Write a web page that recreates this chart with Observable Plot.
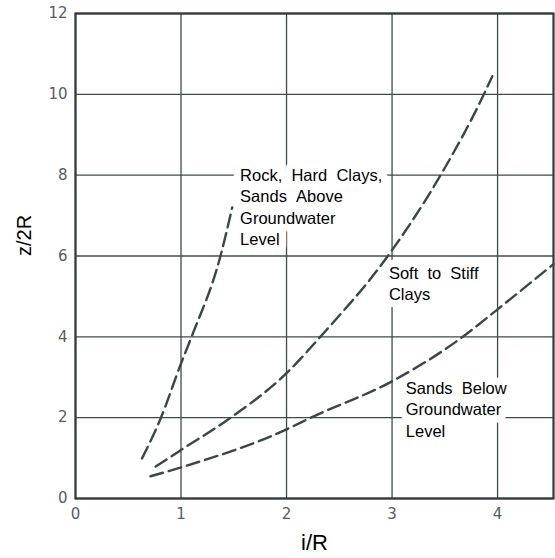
<!DOCTYPE html>
<html><head><meta charset="utf-8">
<script src="https://cdn.jsdelivr.net/npm/d3@7"></script>
<script src="https://cdn.jsdelivr.net/npm/@observablehq/plot@0.6"></script>
<style>body{margin:0;background:#fff}</style>
</head><body><div id="chart"></div>
<script>
// Data
const xTicks = [0, 1, 2, 3, 4];
const yTicks = [0, 2, 4, 6, 8, 10, 12];

const rockX = [0.63, 0.81, 1.0, 1.10, 1.374, 1.485];
const rockY = [0.99, 2.0, 3.34, 4.0, 6.0, 7.2];

const softX = [0.76, 1.0, 1.47, 2.0, 2.32, 2.96, 3.46, 3.87, 3.95];
const softY = [0.79, 1.2, 2.0, 3.1, 4.0, 6.0, 8.0, 10.0, 10.45];

const sandX = [0.71, 1.0, 2.0, 2.23, 3.0, 3.67, 4.0, 4.53];
const sandY = [0.55, 0.77, 1.71, 2.0, 2.9, 4.0, 4.68, 5.8];

const nb = "\u00a0";
const zw = "\u200b";
const labelTexts = [
  `Rock,${nb}${nb}Hard${nb}${nb}Clays,\nSands${nb}${nb}Above\nGroundwater\nLevel${nb.repeat(8)}${zw}`,
  `Soft${nb}${nb}to${nb}${nb}Stiff\nClays`,
  `Sands${nb}${nb}Below\nGroundwater\nLevel${nb.repeat(18)}${zw}`
];
const labelX = [1.56, 2.97, 3.13];
const labelY = [8.22, 5.8, 2.95];

const series = [
  {name: "rock", x: rockX, y: rockY},
  {name: "soft", x: softX, y: softY},
  {name: "sand", x: sandX, y: sandY}
];
const lineData = series.flatMap(s => s.x.map((x, i) => ({series: s.name, x, y: s.y[i]})));
const labels = labelTexts.map((t, i) => ({text: t, x: labelX[i], y: labelY[i]}));

const grid = "#3f4b4b";
const sans = "Liberation Sans, Arial, sans-serif";
const plot = Plot.plot({
  width: 555, height: 558,
  marginLeft: 75, marginRight: 2, marginTop: 13, marginBottom: 60,
  x: {domain: [0, 4.53], label: null},
  y: {domain: [0, 12], label: null},
  style: {background: "#fff", fontFamily: "DejaVu Sans, sans-serif"},
  marks: [
    Plot.gridX(xTicks, {stroke: grid, strokeOpacity: 1, strokeWidth: 1.3}),
    Plot.gridY(yTicks, {stroke: grid, strokeOpacity: 1, strokeWidth: 1.3}),
    Plot.frame({stroke: "#2f3a3a", strokeWidth: 2.2}),
    Plot.axisX(xTicks, {tickSize: 0, tickPadding: 10, fontSize: 15, fill: "#52605f", label: null}),
    Plot.axisY(yTicks, {tickSize: 0, tickPadding: 8, fontSize: 15, fill: "#52605f", label: null}),
    Plot.line(lineData, {x: "x", y: "y", z: "series", curve: "monotone-x",
      stroke: "#3a4747", strokeWidth: 2.4, strokeDasharray: "13,6"}),
    Plot.text(labels, {x: "x", y: "y", text: "text", textAnchor: "start", lineAnchor: "top",
      fontSize: 16.5, lineHeight: 1.28, fill: "#000", stroke: "#fff", strokeWidth: 15,
      strokeLinejoin: "round", paintOrder: "stroke", fontFamily: sans}),
    Plot.text(["i/R"], {frameAnchor: "bottom", dy: 51, fontSize: 22, fill: "#000",
      fontFamily: sans}),
    Plot.text(["z/2R"], {frameAnchor: "left", dx: -51, rotate: -90, fontSize: 20, fill: "#000",
      fontFamily: sans})
  ]
});
document.getElementById("chart").append(plot);
</script>
</body></html>
